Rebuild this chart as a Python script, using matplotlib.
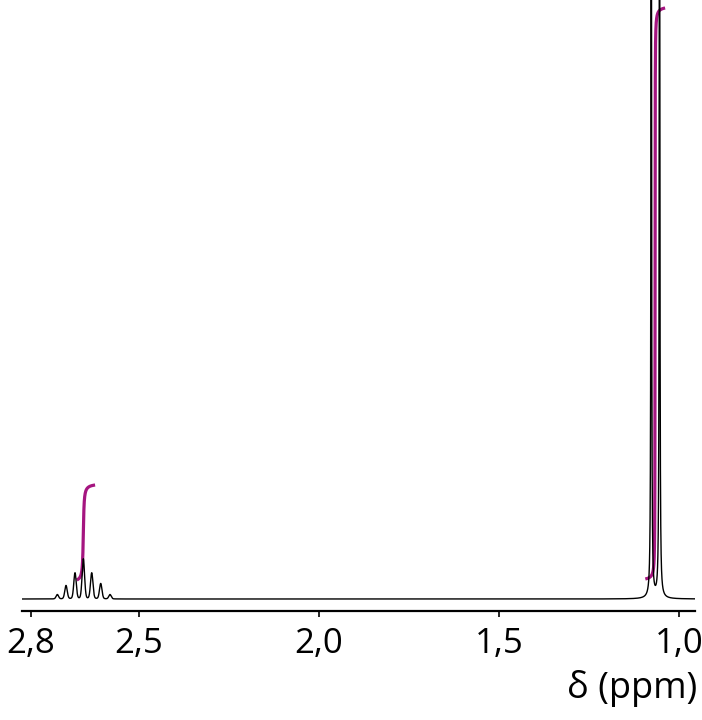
import numpy as np
import matplotlib
matplotlib.use("Agg")
import matplotlib.pyplot as plt

plt.rcParams['font.family'] = ['Open Sans', 'DejaVu Sans']

# 1H NMR lines (ppm, peak height in baseline-relative units)
septet_ppm = [2.7269, 2.7028, 2.6778, 2.6547, 2.6314, 2.6064, 2.5806]
septet_height = [4.4, 13.4, 26.0, 40.0, 26.0, 15.4, 4.4]
doublet_ppm = [1.0775, 1.0545]
doublet_height = [1000.0, 1000.0]

# integral traces: (start ppm, centre ppm, end ppm, bottom, top)
integral_regions = [
    (2.673, 2.6547, 2.622, 19.0, 114.0),
    (1.094, 1.067, 1.039, 20.0, 591.0),
]
integral_width = [0.0017, 0.0003]

tick_values = [2.8, 2.5, 2.0, 1.5, 1.0]
tick_labels = ['2,8', '2,5', '2,0', '1,5', '1,0']

x_left, x_right = 2.825, 0.956
magenta = '#a51580'


def line_sum(x, centres, heights, width, eta):
    # pseudo-Voigt lines: eta = Lorentzian fraction
    y = np.zeros_like(x)
    for c, h in zip(centres, heights):
        d = x - c
        lor = width**2 / (d**2 + width**2)
        gau = np.exp(-np.log(2) * (d / width)**2)
        y += h * (eta * lor + (1 - eta) * gau)
    return y


ppm = np.linspace(x_left, x_right, 40000)
spectrum = line_sum(ppm, septet_ppm, septet_height, 0.0040, 0.15)
spectrum += line_sum(ppm, doublet_ppm, doublet_height, 0.00095, 1.0)

fig = plt.figure(figsize=(7.02, 7.2), dpi=100)
ax = fig.add_axes([22 / 702, 1 - 611 / 720, 673 / 702, 611 / 720])

for (start, centre, end, lo, hi), w in zip(integral_regions, integral_width):
    xi = np.linspace(start, end, 600)
    raw = np.arctan((centre - xi) / w)
    raw = (raw - raw[0]) / (raw[-1] - raw[0])
    ax.plot(xi, lo + raw * (hi - lo), color=magenta, lw=2.3,
            solid_capstyle='butt', zorder=2)

ax.plot(ppm, spectrum, color='black', lw=1.0, zorder=3)

ax.set_xlim(x_left, x_right)
ax.set_ylim(-12, 599)
for side in ['top', 'left', 'right']:
    ax.spines[side].set_visible(False)
ax.spines['bottom'].set_linewidth(1.6)
ax.set_yticks([])
ax.set_xticks(tick_values)
ax.set_xticklabels(tick_labels, fontsize=25)
ax.tick_params(axis='x', direction='out', length=4.5, width=1.2, pad=7)

fig.text(697 / 702, 1 - 698 / 720, 'δ (ppm)', fontsize=26,
         ha='right', va='baseline')

fig.savefig('out.png', dpi=100)
